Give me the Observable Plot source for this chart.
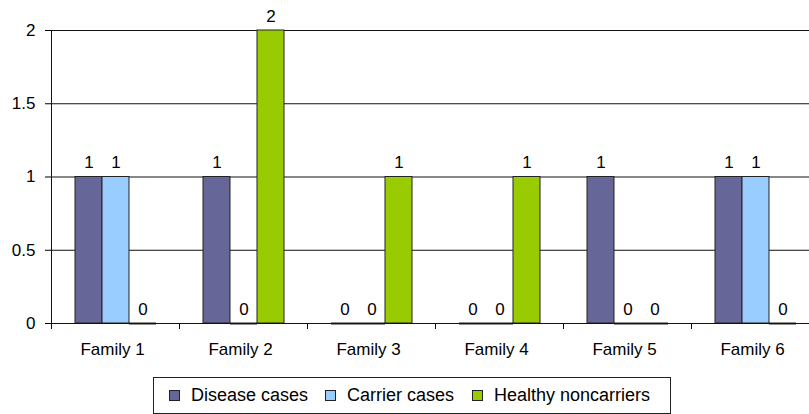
<!DOCTYPE html>
<html>
<head>
<meta charset="utf-8">
<script src="https://cdn.jsdelivr.net/npm/d3@7"></script>
<script src="https://cdn.jsdelivr.net/npm/@observablehq/plot@0.6"></script>
<style>
  html, body { margin: 0; padding: 0; background: #fff; }
  body { width: 809px; height: 414px; overflow: hidden; position: relative; font-family: "Liberation Sans", Arial, sans-serif; }
  #chart { width: 809px; height: 370px; overflow: hidden; position: absolute; left: 0; top: 0; }
  #chart svg { max-width: none !important; }
  #legend { position: absolute; left: 153px; top: 377px; width: 516px; height: 35px; border: 1px solid #222;
            box-sizing: content-box; font-size: 18px; color: #000; }
  .item { position: absolute; top: 0; height: 35px; display: flex; align-items: center; white-space: nowrap; }
  .sw { width: 9px; height: 9px; border: 1px solid #222; margin-right: 11px; }
</style>
</head>
<body>
<div id="chart"></div>
<div id="legend"></div>
<script>
const families = ["Family 1", "Family 2", "Family 3", "Family 4", "Family 5", "Family 6"];
const series = ["Disease cases", "Carrier cases", "Healthy noncarriers"];
const disease = [1, 1, 0, 0, 1, 1];
const carrier = [1, 0, 0, 0, 0, 1];
const healthy = [0, 2, 1, 1, 0, 0];
const colors = ["#666699", "#99CCFF", "#99CC00"];
const yTicks = [0, 0.5, 1, 1.5, 2];

const values = [disease, carrier, healthy];
const data = [];
families.forEach((f, i) => series.forEach((s, j) => data.push({family: f, series: s, value: values[j][i]})));
const zeros = data.filter(d => d.value === 0);

const chart = Plot.plot({
  width: 819,
  height: 370,
  marginLeft: 51,
  marginRight: 0,
  marginTop: 30,
  marginBottom: 47,
  style: {fontFamily: "'Liberation Sans', Arial, sans-serif", fontSize: "17px", color: "#000", background: "#fff", maxWidth: "none"},
  fx: {domain: families, padding: 0, label: null},
  x: {domain: series, paddingInner: 0, paddingOuter: 0.786, axis: null},
  y: {domain: [0, 2], ticks: yTicks, tickFormat: d => String(d), label: null, tickSize: 6, tickPadding: 10},
  color: {domain: series, range: colors},
  marks: [
    Plot.axisFx({anchor: "bottom", tickSize: 0, tickPadding: 19, label: null, dx: -3}),
    Plot.ruleY(yTicks, {stroke: "#111", strokeWidth: 1}),
    Plot.barY(data, {fx: "family", x: "series", y: "value", fill: "series", stroke: "#222", strokeWidth: 1}),
    Plot.tickY(zeros, {fx: "family", x: "series", y: "value", stroke: "#222", strokeWidth: 2}),
    Plot.text(data, {fx: "family", x: "series", y: "value", text: d => String(d.value), lineAnchor: "bottom", dy: -9, fill: "#000"})
  ]
});
chart.style.maxWidth = "none";

// y axis line and category boundary ticks, placed with the plot's own scales
const fx = chart.scale("fx");
const y = chart.scale("y");
const svg = d3.select(chart.tagName === "svg" ? chart : chart.querySelector("svg"));
svg.style("max-width", "none");
const step = fx.step || (fx.range[1] - fx.range[0]) / families.length;
const y0 = y.apply(0), y2 = y.apply(2);
const g = svg.append("g").attr("stroke", "#111").attr("stroke-width", 1);
const x0 = fx.apply(families[0]);
g.append("line").attr("x1", x0 + 0.5).attr("x2", x0 + 0.5).attr("y1", y2).attr("y2", y0 + 6);
const bounds = families.map(f => fx.apply(f)).concat([fx.apply(families[families.length - 1]) + step]);
bounds.forEach(b => g.append("line").attr("x1", b + 0.5).attr("x2", b + 0.5).attr("y1", y0).attr("y2", y0 + 6));
g.append("line").attr("x1", x0).attr("x2", bounds[bounds.length - 1]).attr("y1", y0 + 0.5).attr("y2", y0 + 0.5);

document.getElementById("chart").appendChild(chart);

const legend = document.getElementById("legend");
const itemLeft = [15, 171, 318];
series.forEach((s, i) => {
  const it = document.createElement("div");
  it.className = "item";
  it.style.left = itemLeft[i] + "px";
  const sw = document.createElement("div");
  sw.className = "sw";
  sw.style.background = colors[i];
  const t = document.createElement("span");
  t.textContent = s;
  it.appendChild(sw);
  it.appendChild(t);
  legend.appendChild(it);
});
</script>
</body>
</html>
